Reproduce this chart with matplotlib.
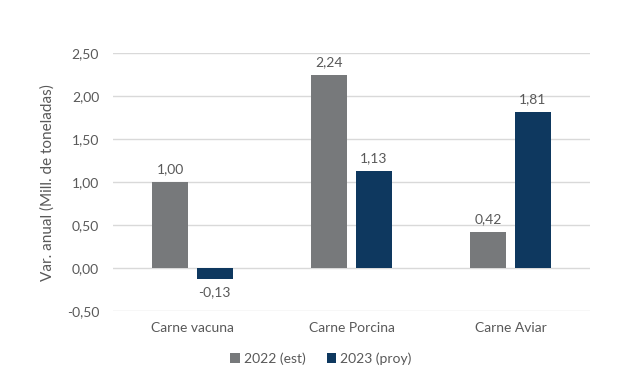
import matplotlib.pyplot as plt
import numpy as np
from matplotlib.ticker import FuncFormatter

categories = ["Carne vacuna", "Carne Porcina", "Carne Aviar"]
est_2022 = [1.00, 2.24, 0.42]
proy_2023 = [-0.13, 1.13, 1.81]
series_names = ["2022 (est)", "2023 (proy)"]

GRAY = "#77797b"
BLUE = "#0e385f"
TEXT = "#595959"

plt.rcParams['font.family'] = ['Lato', 'DejaVu Sans']

fig = plt.figure(figsize=(6.42, 3.85), dpi=100)
ax = fig.add_axes([0.176, 0.192, 0.743, 0.670])

x = np.arange(len(categories))
w = 0.225
off = 0.14
b1 = ax.bar(x - off, est_2022, w, color=GRAY, label=series_names[0], zorder=3)
b2 = ax.bar(x + off, proy_2023, w, color=BLUE, label=series_names[1], zorder=3)

fmt = lambda v: f"{v:.2f}".replace(".", ",")
for bars in (b1, b2):
    for r in bars:
        v = r.get_height()
        if v >= 0:
            y, va = v + 0.08, "bottom"
        else:
            y, va = v - 0.08, "top"
        ax.text(r.get_x() + r.get_width() / 2, y, fmt(v), ha="center", va=va,
                fontsize=10, color=TEXT)

ax.set_xlim(-0.5, 2.5)
ax.set_ylim(-0.5, 2.5)
ax.set_yticks(np.arange(-0.5, 2.51, 0.5))
ax.yaxis.set_major_formatter(FuncFormatter(lambda v, p: fmt(v)))
ax.set_xticks(x)
ax.set_xticklabels(categories)
ax.tick_params(length=0, labelsize=10, colors=TEXT, pad=8)
ax.tick_params(axis="y", pad=10)
ax.grid(axis="y", color="#d9d9d9", linewidth=1, zorder=0)
for s in ax.spines.values():
    s.set_visible(False)

ax.set_ylabel("Var. anual (Mill. de toneladas)", fontsize=11, color=TEXT, labelpad=9)

fig.legend(loc="lower center", bbox_to_anchor=(0.5, 0.02), ncol=2, frameon=False,
           fontsize=10, labelcolor=TEXT, handlelength=0.7, handleheight=0.7,
           handletextpad=0.3, columnspacing=1.5)

fig.savefig("out.png", dpi=100)
